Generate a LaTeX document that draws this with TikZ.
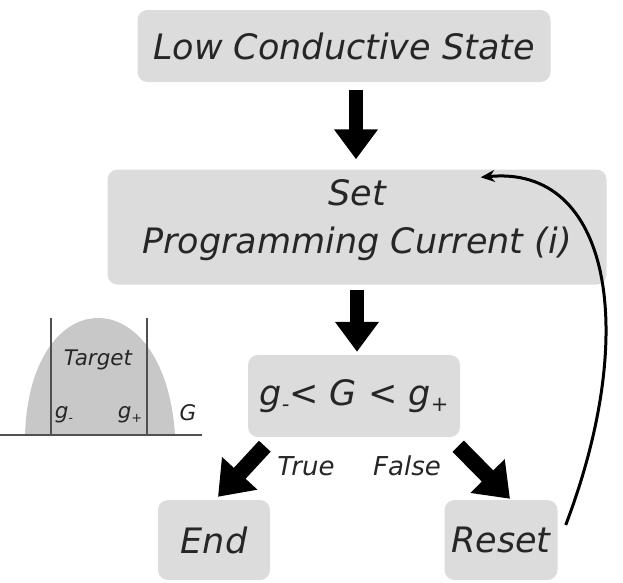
\documentclass[tikz,border=0pt]{standalone}
\usepackage{fontspec}
\setmainfont{DejaVu Sans}
\usetikzlibrary{arrows.meta,calc}
\definecolor{boxgray}{HTML}{DCDCDC}
\definecolor{bellgray}{HTML}{C8C8C8}
\definecolor{linegray}{HTML}{505050}
\newcommand{\lowsub}[1]{\raisebox{-0.3ex}{\scalebox{0.6}{#1}}}
\begin{document}
\begin{tikzpicture}[x=1pt,y=-1pt,
  box/.style={fill=boxgray, rounded corners=10pt, inner sep=0pt, font=\itshape\fontsize{35}{42}\selectfont, text=black!85},
  boxtext/.style={inner sep=0pt, font=\itshape\fontsize{35}{42}\selectfont, text=black!85},
  bigarrow/.style={line width=14pt, -{Triangle[width=42pt,length=30pt]}},
  diagarrow/.style={line width=16pt, -{Triangle[width=46pt,length=32pt]}},
  lbl/.style={font=\itshape\fontsize{26}{30}\selectfont, text=black!85},
  small/.style={font=\itshape\fontsize{21.5}{24}\selectfont, text=black!85}]
\useasboundingbox (0,0) rectangle (623,582);
% inset
\fill[bellgray] (25,435) .. controls (30,279) and (165,279) .. (175,435) -- cycle;
\draw[linegray, line width=2pt] (51,318) -- (51,435);
\draw[linegray, line width=2pt] (147,318) -- (147,435);
\draw[linegray, line width=2pt] (0,435) -- (202,435);
\node[small] (tg) at (98,360) {Target};
\node[small] (gm) at (64,415) {g\lowsub{-}};
\node[small] (gp) at (130,415) {g\lowsub{+}};
\node[small] (gG) at (188,413) {G};
% boxes
\node[box, minimum width=413pt, minimum height=72pt] (low) at (344,46) {Low Conductive State};
\node[box, minimum width=499pt, minimum height=115pt] (set) at (357,227) {};
\node[boxtext] (setA) at ($(set.center)+(0,-34)$) {Set};
\node[boxtext] (setB) at ($(set.center)+(0,17)$) {Programming Current (i)};
\node[box, minimum width=212pt, minimum height=82pt] (cond) at (354,396) {g\lowsub{-}< G < g\lowsub{+}};
\node[box, minimum width=112pt, minimum height=80pt] (end) at (214,540) {End};
\node[box, minimum width=113pt, minimum height=80pt] (reset) at (501,540) {Reset};
% labels
\node[lbl] (true) at (306,466) {True};
\node[lbl] (false) at (407,466) {False};
% arrows
\draw[bigarrow, shorten <=8pt, shorten >=10pt] (low.south -| 356,0) -- (set.north -| 356,0);
\draw[bigarrow, shorten <=5pt, shorten >=3pt] (set.south -| 357,0) -- (cond.north -| 357,0);
\coordinate (tS) at ($(cond.south west)+(17,9)$);
\coordinate (tE) at ($(end.north)+(4,-3)$);
\coordinate (fS) at ($(cond.south east)+(-2,9)$);
\coordinate (fE) at ($(reset.north)+(9,-1)$);
\draw[diagarrow] (tS) -- (tE);
\draw[diagarrow] (fS) -- (fE);
\coordinate (cS) at ($(reset.east)+(8,-15)$);
\coordinate (cE) at ($(set.north east)+(-126,8)$);
\draw[line width=3pt, -{Stealth[length=14pt,width=12pt]}] (cS) .. controls (640,330) and (610,165) .. (cE);
\end{tikzpicture}
\end{document}
